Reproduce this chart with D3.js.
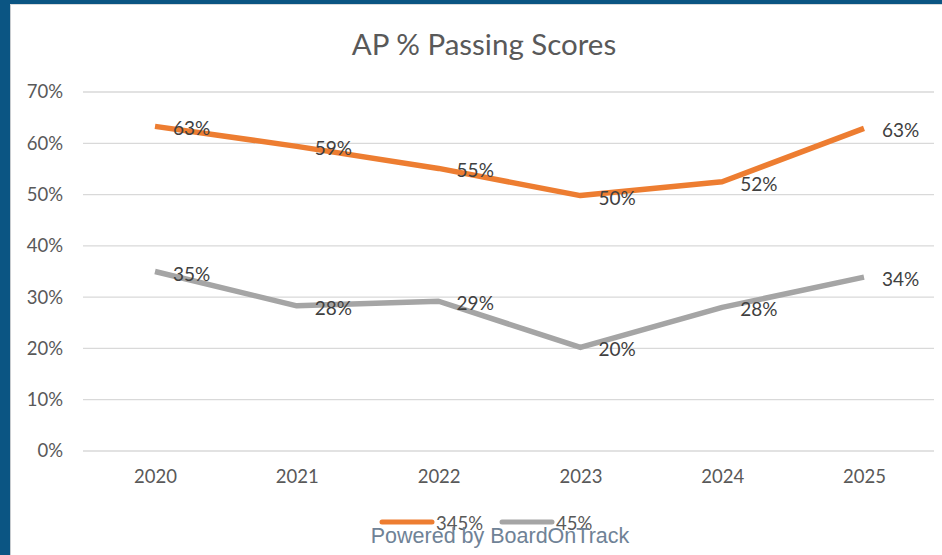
<!DOCTYPE html>
<html><head><meta charset="utf-8">
<script src="https://cdn.jsdelivr.net/npm/d3@7"></script>
<style>body{margin:0;background:#fff;}svg{display:block;}</style>
</head><body>
<svg id="c" width="942" height="555"></svg>
<script>
const years = ["2020","2021","2022","2023","2024","2025"];
const series345 = [63.3, 59.4, 55.1, 49.8, 52.5, 62.9];
const series45 = [35.0, 28.3, 29.2, 20.2, 28.0, 33.9];
const labels345 = ["63%","59%","55%","50%","52%","63%"];
const labels45 = ["35%","28%","29%","20%","28%","34%"];
const yTicks = [0,10,20,30,40,50,60,70];
const seriesNames = ["345%","45%"];
const colors = ["#ED7D31","#A5A5A5"];

const svg = d3.select("#c");
// frame
svg.append("rect").attr("x",0).attr("y",0).attr("width",942).attr("height",555).attr("fill","#fff");
svg.append("rect").attr("x",0).attr("y",0).attr("width",942).attr("height",4).attr("fill","#0b5583");
svg.append("rect").attr("x",0).attr("y",0).attr("width",10).attr("height",555).attr("fill","#0b5583");
svg.append("rect").attr("x",10).attr("y",4).attr("width",1).attr("height",551).attr("fill","#c8ccd0");
svg.append("rect").attr("x",10).attr("y",4).attr("width",932).attr("height",1).attr("fill","#d8dadc");

const font = "Lato, 'Open Sans', sans-serif";
const x = d3.scalePoint().domain(years).range([155, 864]);
const y = d3.scaleLinear().domain([0,70]).range([451, 92]);

// gridlines
svg.append("g").selectAll("line").data(yTicks).join("line")
  .attr("x1",83).attr("x2",934).attr("y1",d=>y(d)).attr("y2",d=>y(d))
  .attr("stroke","#d9d9d9").attr("stroke-width",1.3);

// y axis
const ya = svg.append("g").attr("transform","translate(83,0)")
  .call(d3.axisLeft(y).tickValues(yTicks).tickFormat(d=>d+"%").tickSize(0).tickPadding(20));
ya.select(".domain").remove();
ya.selectAll("text").attr("font-family",font).attr("font-size",18.5).attr("fill","#595959");

// x axis
const xa = svg.append("g").attr("transform","translate(0,468)")
  .call(d3.axisBottom(x).tickSize(0).tickPadding(2));
xa.select(".domain").remove();
xa.selectAll("text").attr("font-family",font).attr("font-size",18.5).attr("fill","#595959");

// title
svg.append("text").attr("x",484).attr("y",55).attr("text-anchor","middle")
  .attr("font-family",font).attr("font-size",29.5).attr("fill","#595959").text("AP % Passing Scores");

const line = d3.line().x((d,i)=>x(years[i])).y(d=>y(d));
[[series345,labels345],[series45,labels45]].forEach(([s,l],k)=>{
  svg.append("path").datum(s).attr("d",line).attr("fill","none")
    .attr("stroke",colors[k]).attr("stroke-width",5.5).attr("stroke-linejoin","round");
  svg.append("g").selectAll("text").data(s).join("text")
    .attr("x",(d,i)=>x(years[i])+18).attr("y",(d,i)=>y(d)+9)
    .attr("font-family",font).attr("font-size",19).attr("fill","#404040")
    .text((d,i)=>l[i]);
});

// legend
const legX = [382, 502];
seriesNames.forEach((n,k)=>{
  svg.append("line").attr("x1",legX[k]).attr("x2",legX[k]+50).attr("y1",522).attr("y2",522)
    .attr("stroke",colors[k]).attr("stroke-width",5).attr("stroke-linecap","round");
  svg.append("text").attr("x",legX[k]+54).attr("y",530).attr("font-family",font)
    .attr("font-size",18.5).attr("fill","#595959").text(n);
});

// watermark
svg.append("text").attr("x",500).attr("y",543).attr("text-anchor","middle")
  .attr("font-family","'Liberation Sans', Arial, sans-serif").attr("font-size",21.5)
  .attr("fill","#6f8296").text("Powered by BoardOnTrack");
</script>
</body></html>
